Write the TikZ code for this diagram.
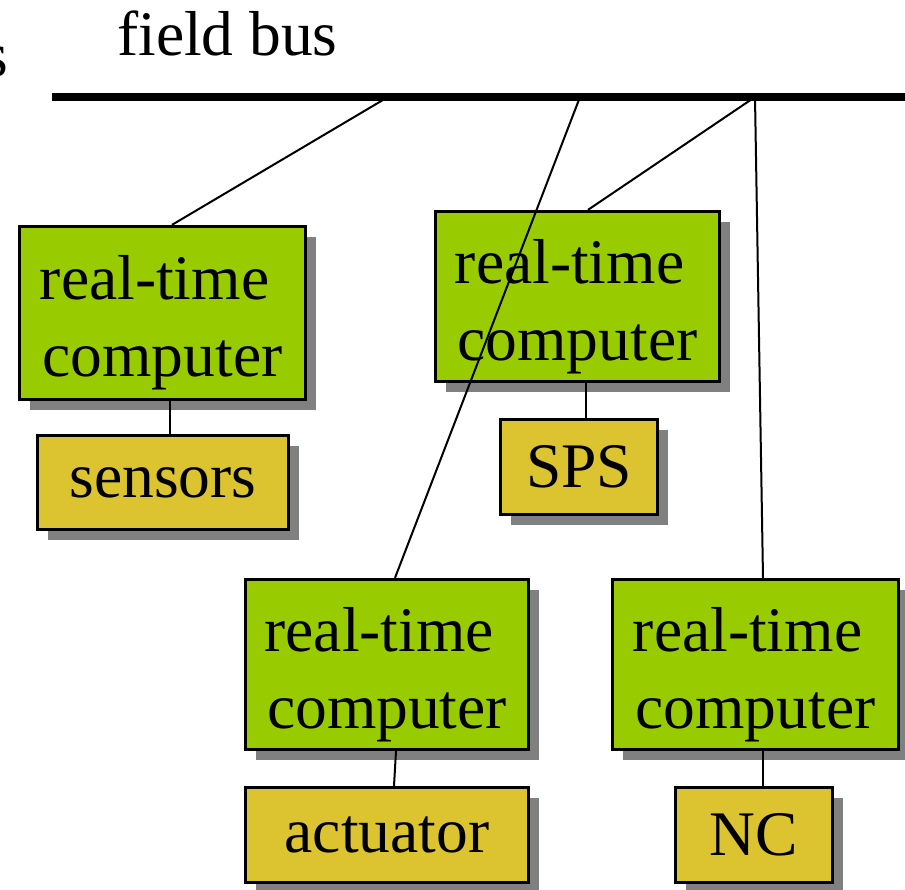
\documentclass[tikz,border=0pt]{standalone}
\usepackage{fontspec}
\setmainfont{Liberation Serif}
\usetikzlibrary{shadows}
\definecolor{rtgreen}{HTML}{99CC00}
\definecolor{devyellow}{HTML}{DCC430}
\definecolor{shadowgray}{HTML}{808080}
\begin{document}
\begin{tikzpicture}[x=1pt,y=-1pt,
  every node/.style={font=\fontsize{63.5}{77}\selectfont},
  box/.style={draw=black, line width=3.3pt, inner sep=0pt,
    drop shadow={shadow xshift=10pt, shadow yshift=-10pt, fill=shadowgray, opacity=1}},
  rtbox/.style={box, fill=rtgreen},
  devbox/.style={box, fill=devyellow},
  txt/.style={align=center, inner sep=0pt},
  link/.style={line width=2pt},
  bus/.style={line width=8pt}]
\useasboundingbox (0,0) rectangle (905,889);

% bus label and cut-off neighbour label
\node[inner sep=0pt, anchor=base east] (leftlabel) at (8,76) {s};
\node[inner sep=0pt, anchor=base west] (buslabel) at (117,55) {field bus};

% field bus
\coordinate (busL) at (52,97);
\coordinate (busR) at (905,97);
\coordinate (t1) at (388,97);
\coordinate (t2) at (580,97);
\coordinate (t3) at (755,97);
\draw[bus] (busL) -- (busR);

% boxes
\node[rtbox, minimum width=286pt, minimum height=173pt] (rt1) at (162.5,313) {};
\node[devbox, minimum width=251pt, minimum height=94pt] (sensors) at (163,482.5) {sensors};
\node[rtbox, minimum width=284pt, minimum height=170pt] (rt2) at (577.5,296.5) {};
\node[devbox, minimum width=157pt, minimum height=95pt] (sps) at (579,467) {SPS};
\node[rtbox, minimum width=283pt, minimum height=170pt] (rt3) at (387,664.5) {};
\node[devbox, minimum width=283pt, minimum height=95pt] (act) at (387,835) {actuator};
\node[rtbox, minimum width=286pt, minimum height=170pt] (rt4) at (755.5,664.5) {};
\node[devbox, minimum width=157pt, minimum height=95pt] (nc) at (754,835) {NC};

\foreach \b in {rt1,rt2,rt3,rt4}
  \node[txt] (\b label) at ([yshift=-10pt]\b.center) {real-time\kern0.25em\\computer};

% connections
\draw[link] (t1) -- ([xshift=9.5pt]rt1.north);
\draw[link] ([xshift=7.5pt]rt1.south) -- ([xshift=7pt]sensors.north);
\draw[link] (t3) -- ([xshift=10.5pt]rt2.north);
\draw[link] ([xshift=8.5pt]rt2.south) -- ([xshift=7pt]sps.north);
\draw[link] (t2) -- ([xshift=8pt]rt3.north);
\draw[link] ([xshift=9pt]rt3.south) -- ([xshift=7pt]act.north);
\draw[link] (t3) -- ([xshift=7.5pt]rt4.north);
\draw[link] ([xshift=7.5pt]rt4.south) -- ([xshift=9pt]nc.north);
\end{tikzpicture}
\end{document}
